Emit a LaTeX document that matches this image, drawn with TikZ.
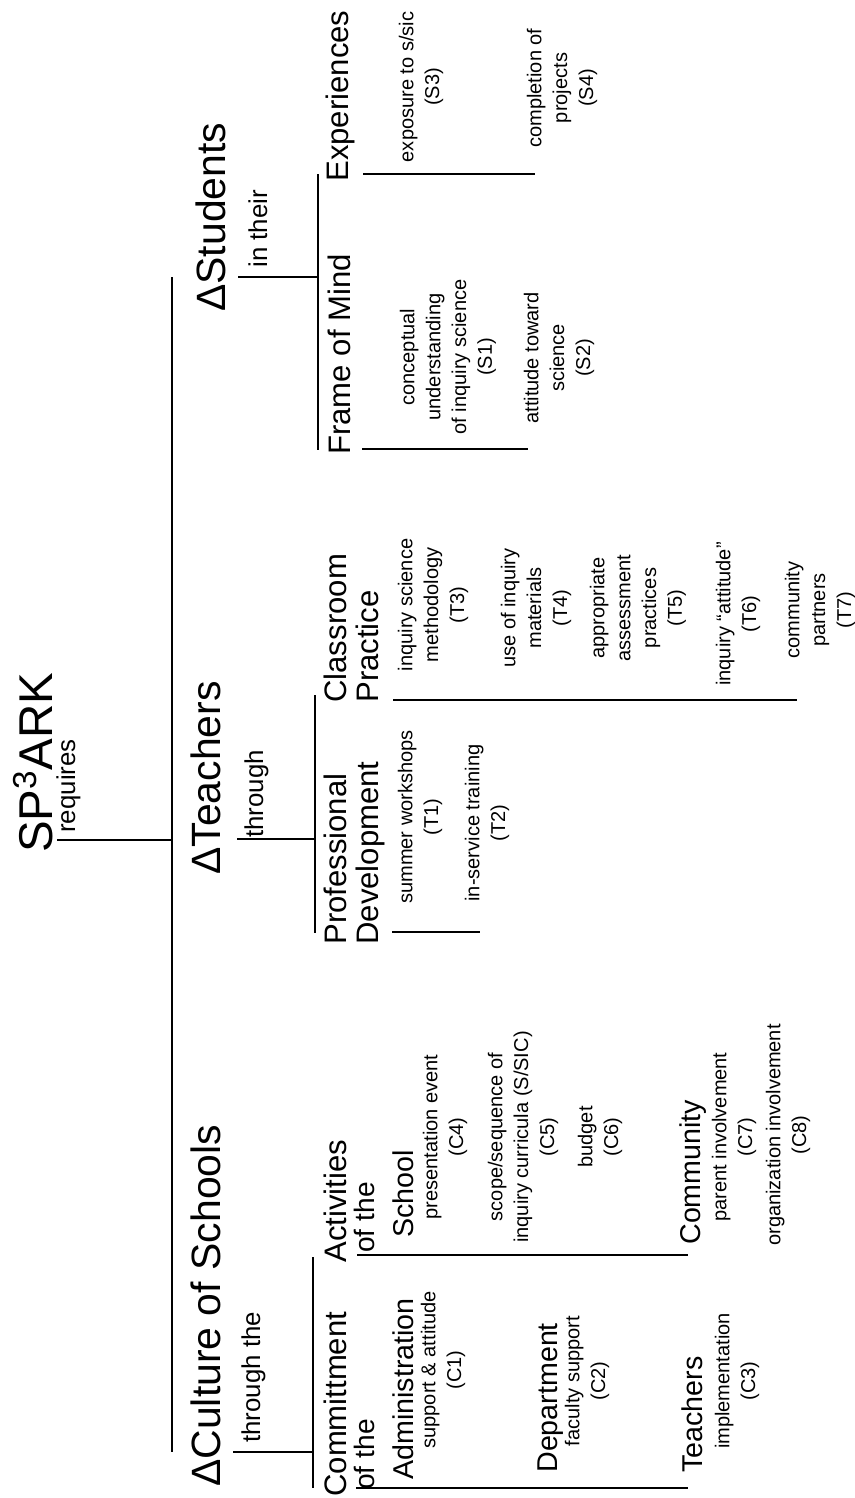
\documentclass[tikz,border=0pt]{standalone}
\usepackage{fontspec}
\setmainfont{Liberation Sans}
\newcommand\szA{\fontsize{27}{30}\selectfont}
\newcommand\szB{\fontsize{23.3}{26}\selectfont}
\newcommand\szC{\fontsize{17.7}{19}\selectfont}
\newcommand\szD{\fontsize{16.3}{18}\selectfont}
\newcommand\szE{\fontsize{14.7}{16}\selectfont}
\newcommand\szF{\fontsize{11.4}{14.7}\selectfont}
\begin{document}
\begin{tikzpicture}[x=0.02cm,y=-0.02cm,
  lbl/.style={rotate=90,inner sep=0pt,anchor=base west},
  top/.style={lbl,font=\szA},
  lvone/.style={lbl,font=\szB},
  lvtwo/.style={lbl,font=\szC},
  lvthree/.style={lbl,font=\szD},
  conn/.style={lbl,font=\szE},
  item/.style={rotate=90,inner sep=0pt,anchor=center,align=center,font=\szF},
  bar/.style={line width=1.5pt}]
\useasboundingbox (0,0) rectangle (855,1498);
% ---- headings
\node[top] (sp) at (52,853) {SP\textsuperscript{3}ARK};
\node[conn] (req) at (75,833) {requires};
\node[lvone] (stu) at (225,312) {ΔStudents};
\node[conn] (inth) at (267,268) {in their};
\node[lvone] (tea) at (220,875) {ΔTeachers};
\node[conn] (thr) at (263,838) {through};
\node[lvone] (cul) at (220,1487) {ΔCulture of Schools};
\node[conn] (thrt) at (260,1443) {through the};
\node[lvtwo] (fom) at (350,455) {Frame of Mind};
\node[lvtwo] (exp) at (348,182) {Experiences};
\node[lvtwo] (prof) at (346,945) {Professional};
\node[lvtwo] (dev) at (378,945) {Development};
\node[lvtwo] (cls) at (346,703) {Classroom};
\node[lvtwo] (prac) at (378,703) {Practice};
\node[lvtwo] (com) at (346,1497) {Committment};
\node[conn,font=\fontsize{16}{18}\selectfont] (oftA) at (374,1490) {of the};
\node[lvtwo] (act) at (346,1263) {Activities};
\node[conn,font=\fontsize{16}{18}\selectfont] (oftB) at (374,1253) {of the};
\node[lvthree] (adm) at (413,1480) {Administration};
\node[lvthree] (sch) at (413,1238) {School};
\node[lvthree] (dep) at (557,1473) {Department};
\node[lvthree] (tch) at (702,1473) {Teachers};
\node[lvthree] (cmy) at (700,1245) {Community};
% ---- items
\node[item] (s1) at (448,357) {conceptual\\understanding\\of inquiry science\\(S1)};
\node[item] (s2) at (559,358) {attitude toward\\science\\(S2)};
\node[item] (s3) at (421,87) {exposure to s/sic\\(S3)};
\node[item] (s4) at (562,88) {completion of\\projects\\(S4)};
\node[item] (t1) at (420,817) {summer workshops\\(T1)};
\node[item] (t2) at (487,823) {in-service training\\(T2)};
\node[item] (t3) at (433,605) {inquiry science\\methodology\\(T3)};
\node[item] (t4) at (536,608) {use of inquiry\\materials\\(T4)};
\node[item] (t5) at (638,608) {appropriate\\assessment\\practices\\(T5)};
\node[item] (t6) at (738,614) {inquiry ``attitude''\\(T6)};
\node[item] (t7) at (820,610) {community\\partners\\(T7)};
\node[item] (c1) at (443,1370) {support \& attitude\\(C1)};
\node[item] (c2) at (587,1381) {faculty support\\(C2)};
\node[item] (c3) at (737,1381) {implementation\\(C3)};
\node[item] (c4) at (445,1137) {presentation event\\(C4)};
\node[item] (c5) at (523,1137) {scope/sequence of\\inquiry curricula (S/SIC)\\(C5)};
\node[item] (c6) at (600,1137) {budget\\(C6)};
\node[item] (c7) at (734,1137) {parent involvement\\(C7)};
\node[item] (c8) at (788,1135) {organization involvement\\(C8)};
% ---- connector coordinates
\coordinate (reqA) at (57,840);
\coordinate (trkM) at (172,840);
\coordinate (trkT) at (172,277);
\coordinate (trkB) at (172,1452);
\coordinate (stuA) at (238,277);
\coordinate (stuJ) at (318,277);
\coordinate (stuT) at (318,174);
\coordinate (stuB) at (318,450);
\coordinate (teaA) at (237,839);
\coordinate (teaJ) at (315,839);
\coordinate (teaT) at (315,695);
\coordinate (teaB) at (315,933);
\coordinate (culA) at (233,1452);
\coordinate (culJ) at (313,1452);
\coordinate (culT) at (313,1257);
\coordinate (culB) at (313,1488);
\coordinate (fomA) at (362,449);
\coordinate (fomB) at (528,449);
\coordinate (expA) at (363,174);
\coordinate (expB) at (535,174);
\coordinate (pdA) at (392,932);
\coordinate (pdB) at (480,932);
\coordinate (cpA) at (393,700);
\coordinate (cpB) at (797,700);
\coordinate (comA) at (356,1488);
\coordinate (comB) at (688,1488);
\coordinate (actA) at (357,1255);
\coordinate (actB) at (688,1255);
% ---- connectors
\draw[bar] (reqA) -- (trkM);
\draw[bar] (trkT) -- (trkB);
\draw[bar] (stuA) -- (stuJ);
\draw[bar] (stuT) -- (stuB);
\draw[bar] (teaA) -- (teaJ);
\draw[bar] (teaT) -- (teaB);
\draw[bar] (culA) -- (culJ);
\draw[bar] (culT) -- (culB);
\draw[bar] (fomA) -- (fomB);
\draw[bar] (expA) -- (expB);
\draw[bar] (pdA) -- (pdB);
\draw[bar] (cpA) -- (cpB);
\draw[bar] (comA) -- (comB);
\draw[bar] (actA) -- (actB);
\end{tikzpicture}
\end{document}
